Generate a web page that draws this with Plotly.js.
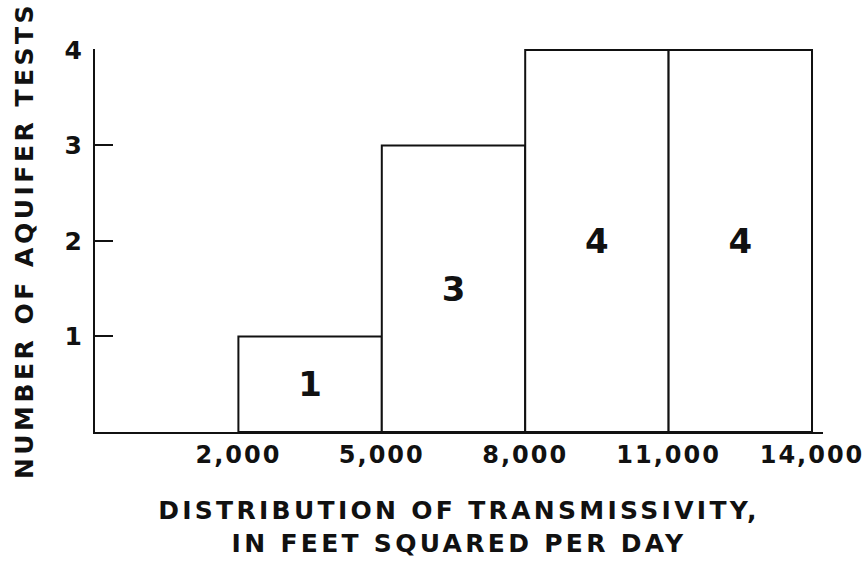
<!DOCTYPE html>
<html>
<head>
<meta charset="utf-8">
<script src="https://cdn.plot.ly/plotly-3.0.1.min.js"></script>
<style>
  html, body { margin: 0; padding: 0; background: #fff; }
  #chart { width: 865px; height: 563px; }
  .xtitle { letter-spacing: 3.3px; }
  .ytitle { letter-spacing: 3.5px; }
  .xtick text { letter-spacing: 2px; }
</style>
</head>
<body>
<div id="chart"></div>
<script>
// Data
const binStarts = [2000, 5000, 8000, 11000];
const binWidths = [3000, 3000, 3000, 3000];
const counts = [1, 3, 4, 4];
const barLabels = ['1', '3', '4', '4'];
const xTickVals = [2000, 5000, 8000, 11000, 14000];
const xTickText = ['2,000', '5,000', '8,000', '11,000', '14,000'];
const yTickVals = [1, 2, 3, 4];
const yTickText = ['1', '2', '3', '4'];

const FONT = 'DejaVu Sans, Liberation Sans, Arial, sans-serif';

const trace = {
  type: 'bar',
  x: binStarts,
  y: counts,
  width: binWidths,
  offset: 0,
  text: barLabels,
  textposition: 'inside',
  insidetextanchor: 'middle',
  textangle: 0,
  constraintext: 'none',
  textfont: { family: FONT, size: 34, color: '#111', weight: 'bold' },
  marker: { color: '#ffffff', line: { color: '#111', width: 2 } },
  hoverinfo: 'skip'
};

const layout = {
  width: 865,
  height: 563,
  margin: { l: 95, r: 42, t: 49, b: 131 },
  paper_bgcolor: '#ffffff',
  plot_bgcolor: '#ffffff',
  showlegend: false,
  font: { family: FONT, color: '#111', weight: 'bold' },
  xaxis: {
    range: [-1000, 14230],
    showgrid: false,
    zeroline: false,
    showline: true,
    linecolor: '#111',
    linewidth: 2,
    ticks: '',
    ticklen: 0,
    tickvals: xTickVals,
    ticktext: xTickText,
    tickfont: { family: FONT, size: 24, color: '#111', weight: 'bold' },
    ticklabelstandoff: 0,
    ticklabeloverflow: 'allow',
    title: {
      text: 'DISTRIBUTION OF TRANSMISSIVITY,<br>IN FEET SQUARED PER DAY',
      font: { family: FONT, size: 25, color: '#111', weight: 'bold' },
      standoff: 34
    },
    automargin: false,
    fixedrange: true
  },
  yaxis: {
    range: [0, 4.01],
    showgrid: false,
    zeroline: false,
    showline: true,
    linecolor: '#111',
    linewidth: 2,
    ticks: 'inside',
    ticklen: 18,
    tickwidth: 2,
    tickcolor: '#111',
    tickvals: yTickVals,
    ticktext: yTickText,
    tickfont: { family: FONT, size: 25, color: '#111', weight: 'bold' },
    ticklabelstandoff: 6,
    title: {
      text: 'NUMBER OF AQUIFER TESTS',
      font: { family: FONT, size: 25, color: '#111', weight: 'bold' },
      standoff: 24
    },
    automargin: false,
    fixedrange: true
  },
  bargap: 0
};

Plotly.newPlot('chart', [trace], layout, { displayModeBar: false, staticPlot: true });
</script>
</body>
</html>
